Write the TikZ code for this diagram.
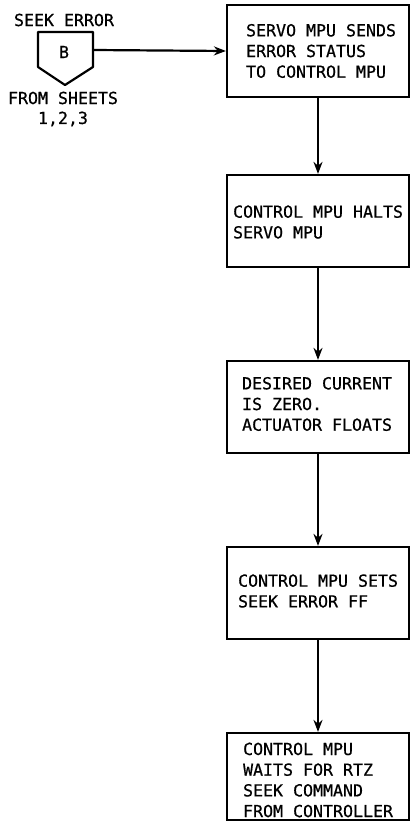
\documentclass[tikz,border=0pt]{standalone}
\usepackage{fontspec}
\setmainfont[FakeBold=0.6]{DejaVu Sans Mono}
\usetikzlibrary{arrows.meta}
\begin{document}
\begin{tikzpicture}[x=1pt,y=-1pt, line width=2.2pt,
  font=\fontsize{16.6}{20.7}\selectfont,
  box/.style={draw, minimum width=182pt, minimum height=92pt, inner sep=0pt},
  txt/.style={anchor=west, align=left, inner sep=0pt},
  lbl/.style={inner sep=0pt},
  arr/.style={-{Stealth[length=12pt,width=9pt]}}]
\useasboundingbox (0,0) rectangle (411,826);
% connector symbol
\draw[line join=round] (38,32) -- (93,32) -- (93,67) -- (65,85) -- (38,67) -- cycle;
\node[lbl] (B) at (64,52) {B};
\coordinate (cr) at (93,50);
\node[lbl] (se) at (64,20) {SEEK ERROR};
\node[lbl] (fs) at (63,98) {FROM SHEETS};
\node[lbl] (ns) at (63,119) {1,2,3};
% boxes
\node[box] (b1) at (318,51) {};
\node[box] (b2) at (318,221) {};
\node[box] (b3) at (318,407) {};
\node[box] (b4) at (318,593) {};
\node[box, minimum height=87pt] (b5) at (318,776.5) {};
% texts
\node[txt] (t1) at (245,51) {SERVO MPU SENDS\\ERROR STATUS\\TO CONTROL MPU};
\node[txt] (t2) at (232,222) {CONTROL MPU HALTS\\SERVO MPU};
\node[txt] (t3) at (241,404) {DESIRED CURRENT\\IS ZERO.\\ACTUATOR FLOATS};
\node[txt] (t4) at (237,591) {CONTROL MPU SETS\\SEEK ERROR FF};
\node[txt] (t5) at (242,780) {CONTROL MPU\\WAITS FOR RTZ\\SEEK COMMAND\\FROM CONTROLLER};
% connectors
\draw[arr] (cr) -- (b1.west);
\draw[arr] (b1) -- (b2);
\draw[arr] (b2) -- (b3);
\draw[arr] (b3) -- (b4);
\draw[arr] (b4) -- (b5);
\end{tikzpicture}
\end{document}
